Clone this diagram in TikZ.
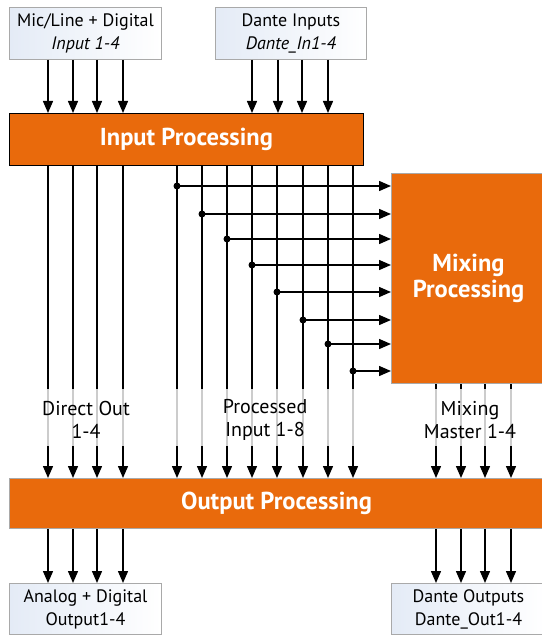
\documentclass[tikz,border=0pt]{standalone}
\usepackage{fontspec}
\setmainfont{PT Sans}
\usetikzlibrary{arrows.meta}
\definecolor{procorange}{HTML}{E96A0C}
\definecolor{boxgray}{HTML}{A9A9A9}
\definecolor{boxblue}{HTML}{E4EBF6}

\begin{document}
\begin{tikzpicture}[x=1pt, y=-1pt,
    io/.style = {draw=boxgray, line width=1pt, left color=boxblue, right color=white, align=center, inner sep=0pt, font=\fontsize{18}{23}\selectfont},
    proc/.style = {fill=procorange, text=white, align=center, inner sep=0pt, font=\bfseries\fontsize{24.5}{26}\selectfont},
    lbl/.style = {align=center, font=\fontsize{20}{23}\selectfont},
    arr/.style = {line width=1.4pt, -{Triangle[length=12pt,width=10pt]}},
    tap/.style = {circle, fill, inner sep=0pt, minimum size=7pt}]
	\useasboundingbox (0,0) rectangle (541,636);

	\node[io, anchor=north west, minimum width=152pt, minimum height=52pt] (mic) at (9,7) {Mic/Line + Digital\\\textit{Input 1-4}};
	\node[io, anchor=north west, minimum width=151pt, minimum height=52pt] (dante) at (215,7) {Dante Inputs\\\textit{Dante\_In1-4}};
	\node[proc, draw=black, line width=0.8pt, anchor=north west, minimum width=354pt, minimum height=52pt] (inproc) at (9,113) {Input Processing};
	\node[proc, draw=boxgray, line width=1pt, anchor=north west, minimum width=154pt, minimum height=210pt] (mix) at (391,173) {Mixing\\Processing};
	\node[proc, draw=boxgray, line width=1pt, anchor=north west, minimum width=534pt, minimum height=50pt] (outproc) at (9,478) {Output Processing};
	\node[io, anchor=north west, minimum width=152pt, minimum height=51pt] (aout) at (9,583) {Analog + Digital\\Output1-4};
	\node[io, anchor=north west, minimum width=154pt, minimum height=51pt] (dout) at (391,583) {Dante Outputs\\Dante\_Out1-4};

	\foreach \x in {48,73,97,123} {
		\draw[arr] (mic.south -| \x,0) -- (inproc.north -| \x,0);
		\draw[arr] (inproc.south -| \x,0) -- (outproc.north -| \x,0);
		\draw[arr] (outproc.south -| \x,0) -- (aout.north -| \x,0);
	}
	\foreach \x in {252,278,302,328}
		\draw[arr] (dante.south -| \x,0) -- (inproc.north -| \x,0);
	\foreach \x/\y in {177/186,202/214,227/239,252/265,277/292,303/320,328/344,353/371} {
		\draw[arr] (inproc.south -| \x,0) -- (outproc.north -| \x,0);
		\node[tap] (t\x) at (\x,\y) {};
		\draw[arr] (t\x.center) -- (mix.west |- 0,\y);
	}
	\foreach \x in {436,461,485,511} {
		\draw[arr] (mix.south -| \x,0) -- (outproc.north -| \x,0);
		\draw[arr] (outproc.south -| \x,0) -- (dout.north -| \x,0);
	}

	\fill[white, opacity=0.8] (0,389) rectangle (541,446);
	\node[lbl] (direct) at (86,420) {Direct Out\\1-4};
	\node[lbl] (processed) at (265,420) {Processed\\Input 1-8};
	\node[lbl] (master) at (470,420) {Mixing\\Master 1-4};
\end{tikzpicture}
\end{document}
